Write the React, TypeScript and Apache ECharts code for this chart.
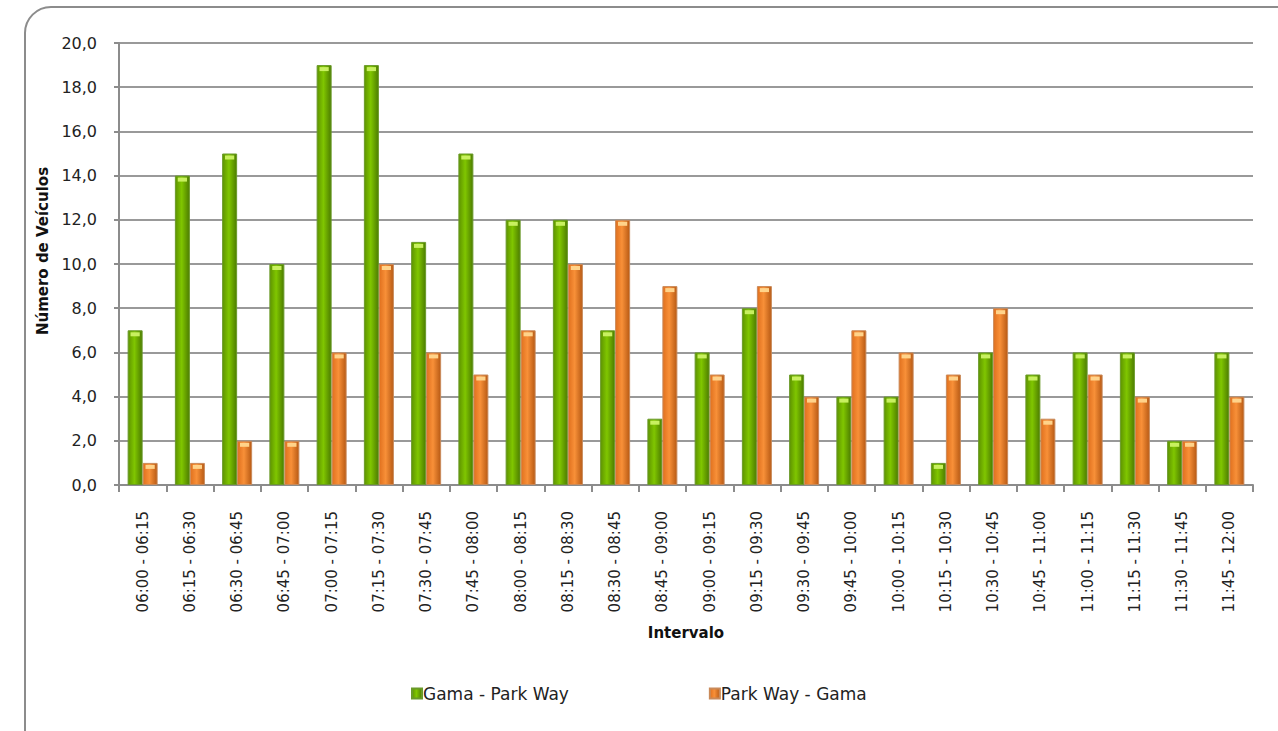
import React, { useEffect, useRef } from "react";
import * as echarts from "echarts";

const categories = [
  "06:00 - 06:15", "06:15 - 06:30", "06:30 - 06:45", "06:45 - 07:00",
  "07:00 - 07:15", "07:15 - 07:30", "07:30 - 07:45", "07:45 - 08:00",
  "08:00 - 08:15", "08:15 - 08:30", "08:30 - 08:45", "08:45 - 09:00",
  "09:00 - 09:15", "09:15 - 09:30", "09:30 - 09:45", "09:45 - 10:00",
  "10:00 - 10:15", "10:15 - 10:30", "10:30 - 10:45", "10:45 - 11:00",
  "11:00 - 11:15", "11:15 - 11:30", "11:30 - 11:45", "11:45 - 12:00",
];
const gamaParkWay = [7, 14, 15, 10, 19, 19, 11, 15, 12, 12, 7, 3, 6, 8, 5, 4, 4, 1, 6, 5, 6, 6, 2, 6];
const parkWayGama = [1, 1, 2, 2, 6, 10, 6, 5, 7, 10, 12, 9, 5, 9, 4, 7, 6, 5, 8, 3, 5, 4, 2, 4];
const seriesNames = ["Gama - Park Way", "Park Way - Gama"];
const yTicks = { min: 0, max: 20, interval: 2 };

const FONT = "'DejaVu Sans', 'Noto Sans', sans-serif";

function hGrad(edgeL: string, mid: string, edgeR: string) {
  return new echarts.graphic.LinearGradient(0, 0, 1, 0, [
    { offset: 0, color: edgeL },
    { offset: 0.45, color: mid },
    { offset: 1, color: edgeR },
  ]);
}

export default function App() {
  const ref = useRef<HTMLDivElement>(null);
  useEffect(() => {
    document.body.style.margin = "0";
    const chart = echarts.init(ref.current!, undefined, { renderer: "svg" });
    const greenFill = hGrad("#5e9400", "#80c600", "#4d7d00");
    const orangeFill = hGrad("#e0701e", "#f89038", "#b85a14");
    chart.setOption({
      animation: false,
      backgroundColor: "#ffffff",
      textStyle: { fontFamily: FONT },
      graphic: [
        {
          type: "rect",
          shape: { x: 25, y: 7, width: 1300, height: 780, r: 26 },
          style: { fill: "none", stroke: "#8c8c8c", lineWidth: 2 },
          z: -1,
        },
      ],
      grid: { left: 119, right: 25, top: 43, bottom: 246 },
      legend: {
        top: 680,
        left: 406,
        itemWidth: 10,
        itemHeight: 10,
        itemGap: 140,
        icon: "rect",
        textStyle: { fontSize: 17, color: "#222", fontFamily: FONT, padding: [0, 0, 0, -4] },
        data: seriesNames,
      },
      xAxis: {
        type: "category",
        data: categories,
        name: "Intervalo",
        nameLocation: "middle",
        nameGap: 140,
        nameTextStyle: { fontWeight: "bold", fontSize: 15, color: "#111" },
        axisLine: { lineStyle: { color: "#8c8c8c", width: 2 } },
        axisTick: { show: true, length: 7, lineStyle: { color: "#8c8c8c", width: 2 } },
        axisLabel: { rotate: 90, margin: 26, fontSize: 15, color: "#222" },
      },
      yAxis: {
        type: "value",
        min: yTicks.min,
        max: yTicks.max,
        interval: yTicks.interval,
        name: "Número de Veículos",
        nameLocation: "middle",
        nameGap: 64,
        nameTextStyle: { fontWeight: "bold", fontSize: 15, color: "#111", padding: [0, 0, 0, 26] },
        axisLine: { show: true, lineStyle: { color: "#8c8c8c", width: 2 } },
        axisTick: { show: true, length: 5, lineStyle: { color: "#8c8c8c", width: 2 } },
        axisLabel: {
          fontSize: 16,
          color: "#222",
          margin: 22,
          formatter: (v: number) => v.toFixed(1).replace(".", ","),
        },
        splitLine: { lineStyle: { color: "#999999", width: 2 } },
      },
      series: [
        {
          name: seriesNames[0],
          type: "bar",
          data: gamaParkWay,
          barWidth: 15,
          barGap: "0%",
          itemStyle: { color: greenFill, borderColor: "#6a9a2a", borderWidth: 1 },
        },
        {
          name: seriesNames[1],
          type: "bar",
          data: parkWayGama,
          barWidth: 15,
          barGap: "0%",
          itemStyle: { color: orangeFill, borderColor: "#c98a5a", borderWidth: 1 },
        },
        {
          name: seriesNames[0] + " cap",
          type: "pictorialBar",
          data: gamaParkWay,
          symbol: "rect",
          symbolSize: [9, 4],
          symbolPosition: "end",
          symbolOffset: [-7.5, 2],
          itemStyle: { color: "#c8f060" },
          z: 5,
          silent: true,
          legendHoverLink: false,
        },
        {
          name: seriesNames[1] + " cap",
          type: "pictorialBar",
          data: parkWayGama,
          symbol: "rect",
          symbolSize: [9, 4],
          symbolPosition: "end",
          symbolOffset: [7.5, 2],
          itemStyle: { color: "#ffd38a" },
          z: 5,
          silent: true,
          legendHoverLink: false,
        },
      ],
    });
    return () => chart.dispose();
  }, []);
  return <div ref={ref} style={{ width: 1278, height: 731 }} />;
}
